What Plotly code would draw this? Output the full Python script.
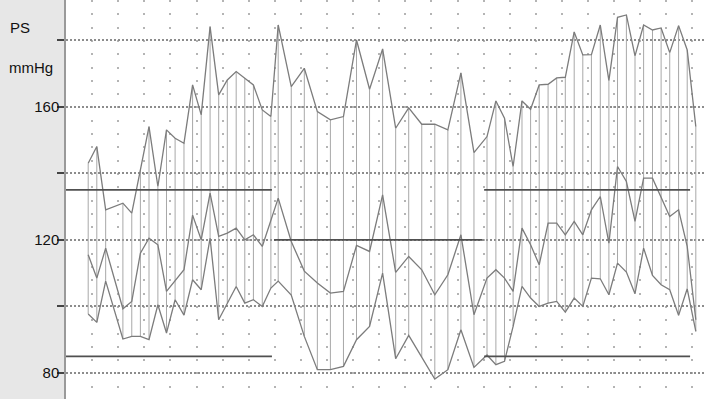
import plotly.graph_objects as go

# Reading times (hours from start of recording)
times = [0.85, 1.18, 1.52, 2.18, 2.52, 2.85, 3.18, 3.52, 3.85, 4.18, 4.52, 4.85, 5.18, 5.52, 5.85, 6.18, 6.52, 6.85, 7.18, 7.52, 7.85,
         8.13, 8.63, 9.13, 9.63, 10.13, 10.63, 11.13, 11.63, 12.13, 12.63, 13.13, 13.63, 14.13, 14.63, 15.13, 15.63,
         16.13, 16.47, 16.8, 17.13, 17.47, 17.8, 18.13, 18.47, 18.8, 19.13, 19.47, 19.8, 20.13, 20.47, 20.8, 21.13,
         21.47, 21.8, 22.13, 22.47, 22.8, 23.13, 23.47, 23.8, 24.13]

systolic = [143, 148, 129, 131, 128, 141, 154, 136, 153, 150.5, 149, 166.5, 157.5, 184, 163.5, 168, 170.5, 168.5, 166.5, 159, 157,
            184.5, 166, 171.5, 158.5, 156, 157, 180, 165.2, 177.3, 153.5, 159.6, 154.7, 154.7, 153, 170.1, 146.2,
            151, 161.7, 156.5, 142, 161.7, 159.2, 166.5, 166.7, 168.6, 168.8, 182.4, 175.5, 175.6, 184.5, 167.8, 186.8,
            187.5, 175.2, 184.5, 183, 183.6, 176.2, 184.3, 177, 154]

mean_p = [115.5, 108.5, 117.5, 99.3, 101.5, 116, 120.5, 118.5, 104.5, 107.7, 111, 127.4, 120, 134, 121, 122, 123.5, 120, 121.5, 118, 126,
          132.5, 119.5, 110.6, 107, 104, 104.5, 118.3, 116.5, 133.5, 110.2, 115, 111, 103.5, 109.5, 121.5, 97.5,
          108.5, 111, 108.5, 104.5, 123.5, 118.5, 112.5, 125, 125, 121.5, 125.5, 121.5, 129, 133, 119, 142,
          137.5, 125.5, 138.5, 138.5, 132.5, 127, 129, 118, 96]

diastolic = [97.7, 95.2, 107.6, 90.2, 91, 91, 90, 100.5, 92, 102, 97.4, 108, 105, 120.5, 96, 101, 106, 101, 102, 100, 105.5,
             107.6, 103.4, 91, 81, 81, 82, 90, 94, 110, 84.3, 91.3, 84.8, 78.2, 81, 93, 81.7,
             85.4, 82.5, 83.5, 94, 106, 102.5, 100, 101, 101.5, 98.3, 102.5, 100, 108.5, 108.3, 103.5, 113,
             110.3, 103.8, 117.5, 109.3, 106.5, 105, 97.3, 105.3, 92.5]

# Threshold periods: start, end, systolic limit, diastolic limit
period_start = [0.0, 7.97, 16.02]
period_end = [7.89, 15.94, 23.91]
limit_sys = [135, 120, 135]
limit_dia = [85, 70, 85]

y_tickvals = [80, 100, 120, 140, 160, 180]
y_ticktext = ["80", "", "120", "", "160", ""]

fig = go.Figure()

# vertical bars systolic -> diastolic for each reading
vx, vy = [], []
for t, s, d in zip(times, systolic, diastolic):
    vx += [t, t, None]
    vy += [s, d, None]
fig.add_trace(go.Scatter(x=vx, y=vy, mode="lines", line=dict(color="#a8a8a8", width=1),
                         hoverinfo="skip", showlegend=False))

for series in (diastolic, mean_p, systolic):
    fig.add_trace(go.Scatter(x=times, y=series, mode="lines",
                             line=dict(color="#7c7c7c", width=1.3), showlegend=False))

for x0, x1, ls, ld in zip(period_start, period_end, limit_sys, limit_dia):
    for lv in (ls, ld):
        fig.add_trace(go.Scatter(x=[x0, x1], y=[lv, lv], mode="lines",
                                 line=dict(color="#505050", width=1.8), showlegend=False))

font = "Liberation Sans, Arial, sans-serif"
fig.update_layout(
    width=706, height=399, autosize=False,
    margin=dict(l=66, r=0, t=0, b=0, pad=0),
    paper_bgcolor="white", plot_bgcolor="white",
    showlegend=False,
    font=dict(family=font, size=15, color="#111"),
    xaxis=dict(range=[0, 24.52], showticklabels=False, ticks="", showgrid=True,
               tick0=0, dtick=1, gridcolor="#b4b4b4", gridwidth=2, automargin=False,
               griddash="2px,11.3px", zeroline=False, showline=False),
    yaxis=dict(range=[72.2, 192], tickvals=y_tickvals, ticktext=y_ticktext,
               ticks="outside", ticklen=7, tickwidth=1.5, tickcolor="#444",
               ticklabelstandoff=-5,
               showline=True, linecolor="#9a9a9a", linewidth=1.5, automargin=False,
               showgrid=True, gridcolor="#8c8c8c", gridwidth=1.5, griddash="2px,2px",
               zeroline=False, tickfont=dict(size=15, color="#111", family=font)),
    shapes=[dict(type="rect", xref="paper", yref="paper", x0=-66/640, x1=-0.003, y0=0, y1=1,
                 fillcolor="#e7e7e7", line=dict(width=0), layer="below")],
    annotations=[
        dict(text="PS", xref="paper", yref="paper", x=-58/640, y=1-27/399, xanchor="left",
             yanchor="middle", showarrow=False, font=dict(size=15, color="#111", family=font)),
        dict(text="mmHg", xref="paper", yref="paper", x=-59/640, y=1-67/399, xanchor="left",
             yanchor="middle", showarrow=False, font=dict(size=15, color="#111", family=font)),
    ],
)

fig.write_html("out.html", config={"displayModeBar": False},
               post_script="document.body.style.margin='0';")
